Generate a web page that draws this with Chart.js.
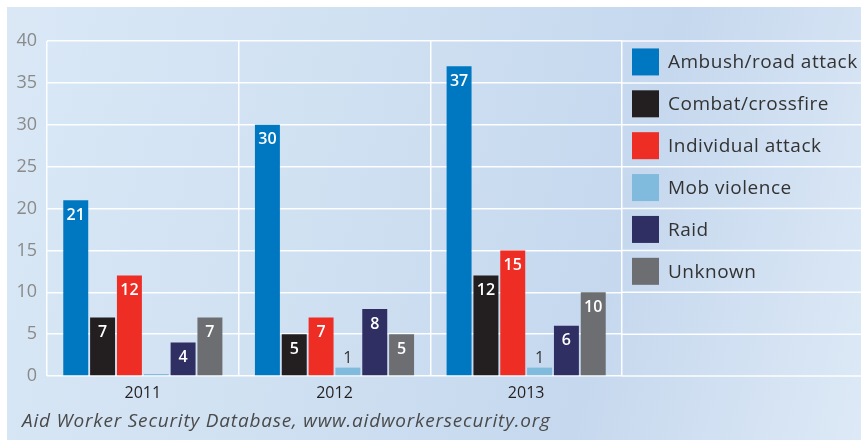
<!DOCTYPE html>
<html>
<head>
<meta charset="utf-8">
<script src="https://cdn.jsdelivr.net/npm/chart.js@4/dist/chart.umd.min.js"></script>
<style>
  html, body { margin: 0; padding: 0; background: #fff; }
  #bg {
    position: absolute; left: 7px; top: 7px; width: 854px; height: 433px;
    background: linear-gradient(105deg, #dae8f6 0%, #d0e1f2 35%, #c6d8ee 70%, #dde9f6 100%);
  }
  #box { position: absolute; left: 0; top: 0; width: 861px; height: 440px; }
  #source {
    position: absolute; left: 22px; top: 407px;
    font-family: "Open Sans", sans-serif; font-style: italic; font-size: 19px;
    letter-spacing: 0.8px; color: #4a4a4a;
  }
</style>
</head>
<body>
<div id="bg"></div>
<div id="box"><canvas id="myChart"></canvas></div>
<div id="source">Aid Worker Security Database, www.aidworkersecurity.org</div>
<script>
// values
const years = ['2011', '2012', '2013'];
const ambush = [21, 30, 37];
const combat = [7, 5, 12];
const individual = [12, 7, 15];
const mob = [0, 1, 1];
const raid = [4, 8, 6];
const unknown = [7, 5, 10];
const yMin = 0, yMax = 40, yStep = 5;

const series = [
  {label: 'Ambush/road attack', data: ambush, color: '#0078c1'},
  {label: 'Combat/crossfire', data: combat, color: '#231f20'},
  {label: 'Individual attack', data: individual, color: '#ee2d24'},
  {label: 'Mob violence', data: mob, color: '#80badd'},
  {label: 'Raid', data: raid, color: '#302f63'},
  {label: 'Unknown', data: unknown, color: '#6d6e71'}
];

// horizontal grid lines run on through the legend area
const extendGrid = {
  id: 'extendGrid',
  beforeDatasetsDraw(chart) {
    const {ctx, chartArea, scales: {y}} = chart;
    ctx.save();
    ctx.strokeStyle = 'rgba(255,255,255,0.95)';
    ctx.lineWidth = 1.5;
    y.ticks.forEach(t => {
      const py = y.getPixelForValue(t.value);
      ctx.beginPath();
      ctx.moveTo(chartArea.right, py);
      ctx.lineTo(chart.width, py);
      ctx.stroke();
    });
    ctx.restore();
  }
};

// value labels in / above the bars
const barValues = {
  id: 'barValues',
  afterDatasetsDraw(chart) {
    const ctx = chart.ctx;
    ctx.save();
    ctx.textAlign = 'center';
    ctx.textBaseline = 'middle';
    chart.data.datasets.forEach((ds, i) => {
      chart.getDatasetMeta(i).data.forEach((bar, j) => {
        const v = ds.data[j];
        if (!v) return;
        if (v <= 1) {
          ctx.fillStyle = '#333';
          ctx.font = '16px "Open Sans", sans-serif';
          ctx.fillText(v, bar.x, bar.y - 9);
        } else {
          ctx.fillStyle = '#fff';
          ctx.font = '600 16px "Open Sans", sans-serif';
          ctx.fillText(v, bar.x, bar.y + 15);
        }
      });
    });
    ctx.restore();
  }
};

// legend: one item per grid band, from the top
const bandLegend = {
  id: 'bandLegend',
  afterDraw(chart) {
    const {ctx, chartArea, scales: {y}} = chart;
    ctx.save();
    ctx.textBaseline = 'middle';
    ctx.font = '19px "Open Sans", sans-serif';
    ctx.letterSpacing = '0.5px';
    chart.data.datasets.forEach((ds, i) => {
      const top = y.getPixelForValue(yMax - yStep * i);
      const bot = y.getPixelForValue(yMax - yStep * (i + 1));
      const cy = (top + bot) / 2;
      ctx.fillStyle = ds.backgroundColor;
      ctx.fillRect(chartArea.right + 10, cy - 13.5, 27, 27);
      ctx.fillStyle = '#333';
      ctx.fillText(ds.label, chartArea.right + 46, cy + 1);
    });
    ctx.restore();
  }
};

const ctx = document.getElementById('myChart').getContext('2d');
new Chart(ctx, {
  type: 'bar',
  data: {
    labels: years,
    datasets: series.map(s => ({
      label: s.label,
      data: s.data,
      backgroundColor: s.color,
      minBarLength: s.data.includes(0) ? 2 : 0,
      categoryPercentage: 0.84,
      barPercentage: 0.93
    }))
  },
  options: {
    responsive: true,
    maintainAspectRatio: false,
    animation: false,
    layout: {padding: {top: 41, right: 239, left: 0, bottom: 0}},
    plugins: {legend: {display: false}, tooltip: {enabled: false}},
    scales: {
      x: {
        grid: {color: 'rgba(255,255,255,0.95)', lineWidth: 1.5, drawTicks: false, offset: true},
        border: {display: false},
        ticks: {color: '#231f20', padding: 8, font: {family: 'Open Sans', size: 16}},
        afterFit: s => { s.height = 64; }
      },
      y: {
        min: yMin, max: yMax,
        grid: {color: 'rgba(255,255,255,0.95)', lineWidth: 1.5, drawTicks: false},
        border: {display: false},
        ticks: {stepSize: yStep, color: '#8a8a8a', padding: 10, font: {family: 'Open Sans', size: 18}},
        afterFit: s => { s.width = 47; }
      }
    }
  },
  plugins: [extendGrid, barValues, bandLegend]
});
</script>
</body>
</html>
